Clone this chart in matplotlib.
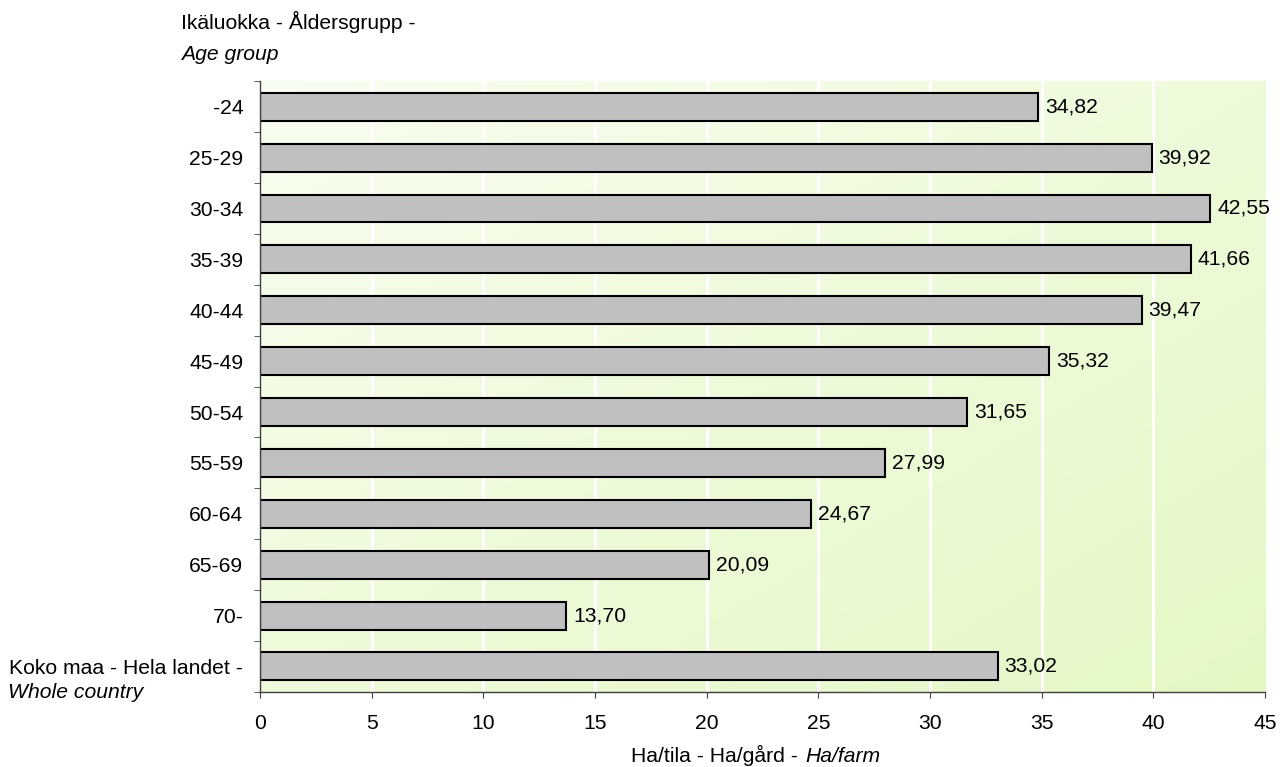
import numpy as np
import matplotlib.pyplot as plt
from matplotlib.colors import LinearSegmentedColormap

plt.rcParams['font.family'] = ['Liberation Sans', 'DejaVu Sans']

categories = ['-24', '25-29', '30-34', '35-39', '40-44', '45-49', '50-54',
              '55-59', '60-64', '65-69', '70-', 'Koko maa - Hela landet -']
values = [34.82, 39.92, 42.55, 41.66, 39.47, 35.32, 31.65, 27.99, 24.67,
          20.09, 13.70, 33.02]
xticks = [0, 5, 10, 15, 20, 25, 30, 35, 40, 45]

FS = 15.2

fig = plt.figure(figsize=(12.87, 7.67), dpi=100)
ax = fig.add_axes([0.202, 0.098, 0.781, 0.796])

n = len(categories)
ypos = np.arange(n)

# gradient background (pale top-left -> light green bottom-right)
gx, gy = np.meshgrid(np.linspace(0, 1, 200), np.linspace(0, 1, 200))
grad = (gx + gy) / 2
cmap = LinearSegmentedColormap.from_list('bg', ['#f8fef0', '#e4f8c4'])
ax.imshow(grad, cmap=cmap, extent=[0, 45, n - 0.5, -0.5], aspect='auto',
          zorder=0, interpolation='bilinear')

for x in xticks[1:-1]:
    ax.axvline(x, color='white', lw=2.2, zorder=1)

ax.barh(ypos, values, height=0.55, color='#c0c0c0', edgecolor='black',
        linewidth=1.5, zorder=2)

for y, v in zip(ypos, values):
    ax.annotate(f"{v:.2f}".replace('.', ','), (v, y), xytext=(5, 0),
                textcoords='offset points', va='center', ha='left',
                fontsize=FS, zorder=3)

ax.set_xlim(0, 45)
ax.set_ylim(n - 0.5, -0.5)
ax.set_xticks(xticks)
ax.tick_params(axis='x', labelsize=FS, length=4, color='#404040', pad=12)
ax.set_yticks(ypos)
ax.set_yticklabels(categories, fontsize=FS)
ax.tick_params(axis='y', length=0, pad=12)
ax.set_yticks(np.arange(n + 1) - 0.5, minor=True)
ax.tick_params(axis='y', which='minor', length=4, color='#404040')

for s in ['top', 'right']:
    ax.spines[s].set_visible(False)
for s in ['left', 'bottom']:
    ax.spines[s].set_color('#404040')
    ax.spines[s].set_linewidth(1.0)

def px(x, y):
    return x / 1287, 1 - y / 767

fig.text(*px(181, 29), 'Ikäluokka - Åldersgrupp -', fontsize=FS,
         va='baseline', ha='left')
fig.text(*px(181, 60), 'Age group', fontsize=FS, style='italic',
         va='baseline', ha='left')
fig.text(*px(8, 698), 'Whole country', fontsize=FS,
         style='italic', va='baseline', ha='left')
fig.text(*px(804, 762), 'Ha/tila - Ha/gård - ', fontsize=FS,
         va='baseline', ha='right')
fig.text(*px(805, 762), 'Ha/farm', fontsize=FS, style='italic',
         va='baseline', ha='left')

fig.savefig('out.png', dpi=100)
